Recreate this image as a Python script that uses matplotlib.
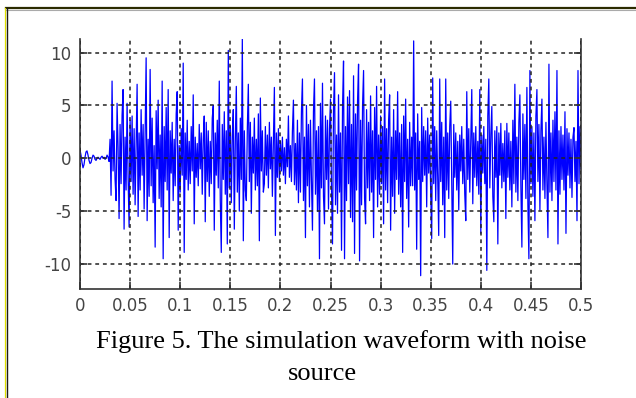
import matplotlib.pyplot as plt
from matplotlib.lines import Line2D

dt = 0.001
signal = [
    # 0.000 - 0.029: small decaying start-up ripple
    0.8, 0.3, -0.4, -0.9, -0.6, 0.1, 0.6, 0.7, 0.3, -0.2,
    -0.5, -0.4, 0.0, 0.3, 0.2, -0.1, -0.2, 0.0, 0.1, 0.0,
    -0.1, 0.1, 0.2, 0.0, 0.1, -0.1, 0.0, 0.3, 0.1, -0.3,
    # 0.030 - 0.099
    1.8, -3.5, 7.3, -1.2, 2.6, -2.0, -4.0, 5.2, 1.0, -5.7,
    3.2, -2.4, 4.1, 6.5, -6.7, 2.0, -3.0, 5.2, -1.8, -6.5,
    3.6, -2.2, 4.0, -3.4, 2.8, -4.4, 1.5, 7.0, -5.5, 2.4,
    -3.0, 4.6, -1.6, 3.2, -4.8, 2.0, 9.5, -5.9, 1.8, -3.6,
    8.4, -2.6, 3.8, -4.2, 1.2, -8.4, 4.5, -1.0, 5.5, -3.8,
    2.2, -4.6, 7.3, -9.5, 3.0, -2.2, 4.8, -3.0, 6.5, -7.5,
    2.6, -1.4, 3.4, -4.0, 1.8, -2.6, 4.2, 6.3, -6.8, 1.2,
    # 0.100 - 0.199
    -3.2, 2.8, -1.6, 9.0, -8.9, 2.4, -2.0, 3.6, -3.0, 1.6,
    -2.4, 3.0, -1.2, 6.0, -6.2, 2.0, -1.8, 1.4, -2.6, 3.2,
    -1.0, 2.4, -3.4, 1.8, 4.0, -6.0, 3.4, -2.2, 2.6, -3.6,
    1.6, -2.4, 3.8, 5.0, -6.8, 2.4, -1.6, 3.6, -2.8, 7.3,
    -4.0, -8.9, 3.2, -2.0, 4.4, -3.4, 2.6, -8.1, 10.2, -2.8,
    3.0, -4.2, 2.2, 4.6, -6.7, 1.6, 6.8, -3.2, 2.4, -5.0,
    3.8, -2.0, 11.3, -7.8, 2.6, -3.0, -4.0, 2.8, 7.0, -2.2,
    3.4, -5.2, 2.0, -1.4, 3.8, -3.0, 1.8, -2.6, 4.2, -7.8,
    5.7, -1.2, 2.6, -3.2, -2.4, 3.0, -1.6, 2.2, -2.8, 3.4,
    -1.0, 2.0, -3.6, 1.4, 6.7, -7.3, 2.4, -1.8, 2.8, -2.2,
    # 0.200 - 0.299
    1.6, -1.2, 2.0, -1.6, 1.0, -2.4, 1.8, -0.8, 4.0, -1.8,
    1.2, -2.2, 2.6, 5.5, -2.5, 1.4, -3.0, 3.6, -4.2, 2.4,
    -3.2, 4.4, 7.5, -4.0, 2.0, -7.5, 5.0, -2.6, 3.2, -4.6,
    3.6, -2.0, -6.8, 4.4, 7.5, -3.4, 2.6, -5.0, 3.0, -9.5,
    5.2, -2.8, 7.1, -3.6, -6.2, 4.0, -2.0, 3.6, -4.8, 2.8,
    5.6, -3.0, -8.1, 4.6, 8.1, -4.4, 2.2, -5.2, 6.0, -3.2,
    2.4, -8.7, 4.8, 9.2, -9.5, 3.0, -4.0, 5.8, -2.4, 6.4,
    -5.6, 3.2, -6.0, 7.8, -9.0, 4.2, -3.0, 5.4, 8.9, -9.7,
    3.6, -4.4, 5.0, 8.3, -3.8, -6.2, 4.6, -2.8, 3.4, -4.0,
    5.9, -3.2, 2.6, -7.5, 4.8, -2.0, 6.8, -4.6, 2.2, -3.4,
    # 0.300 - 0.399
    4.0, -2.4, 3.0, -6.2, 7.5, -3.0, 2.8, -4.2, 3.6, 6.0,
    -6.8, 2.0, -3.6, 4.6, -5.2, 2.6, -2.0, 6.3, -3.4, 2.4,
    -4.6, 3.2, -8.9, 4.0, -2.2, 5.6, -3.8, 1.8, -6.5, 3.4,
    -2.6, 2.0, -2.6, 11.1, -3.0, 2.4, -8.6, 4.2, -2.0, 1.6,
    -11.1, 4.8, -2.2, 3.0, -1.6, 2.6, -4.6, 3.8, -1.4, 2.2,
    -3.2, -7.6, 7.6, -2.4, 3.0, -4.0, 2.6, -1.8, -7.3, 7.5,
    -2.2, 3.4, -4.4, 2.0, -7.5, 7.5, -3.0, 2.4, -3.8, 3.0,
    5.4, -2.6, -10.0, 3.2, -1.8, 2.4, -3.0, 1.6, -4.9, 2.2,
    -1.2, 3.0, -2.4, 1.8, -3.4, -5.9, 6.3, -2.0, 2.8, -3.2,
    1.4, 6.5, -4.3, 2.4, -1.8, 3.0, -2.6, 1.6, -3.4, 6.5,
    # 0.400 - 0.500
    -7.1, 2.2, -1.4, 3.0, -2.4, 1.8, -10.6, 4.0, 7.5, -2.8,
    2.2, 4.9, -3.6, -6.0, 2.6, -1.8, 3.0, -8.1, 2.4, -1.6,
    3.3, -2.8, 1.4, -2.2, 2.6, -5.7, 3.3, -1.8, 2.4, -3.0,
    1.6, -4.6, 3.6, -2.4, 7.0, -3.2, 2.0, -4.0, 3.4, 6.0,
    -2.6, -8.4, 4.2, -2.0, 3.2, -3.8, 6.7, -4.4, -9.5, 8.3,
    -2.4, 3.0, -3.6, 2.4, -5.9, 4.0, 6.5, -2.2, 3.2, -4.9,
    2.6, 5.6, -3.0, 2.0, -3.8, 3.4, -2.4, -7.5, 8.9, -3.2,
    2.4, -4.0, 3.6, -2.2, 4.4, -3.0, 8.3, -8.1, 2.6, -3.4,
    3.0, -2.0, 2.2, -3.0, 4.4, -7.1, 2.8, -1.6, 2.4, -2.8,
    1.8, -3.7, 2.0, 2.9, -2.2, 1.6, -5.9, 8.3, -2.4, 3.0,
    -1.0,
]
time = [i * dt for i in range(len(signal))]

x_ticks = [0, 0.05, 0.1, 0.15, 0.2, 0.25, 0.3, 0.35, 0.4, 0.45, 0.5]
x_labels = ['0', '0.05', '0.1', '0.15', '0.2', '0.25', '0.3', '0.35', '0.4', '0.45', '0.5']
y_ticks = [-10, -5, 0, 5, 10]
y_labels = ['-10', '-5', '0', '5', '10']

caption_1 = 'Figure 5. The simulation waveform with noise'
caption_2 = 'source'

fig = plt.figure(figsize=(6.36, 3.98), dpi=100)
ax = fig.add_axes([80 / 636, 1 - 289 / 398, 501 / 636, 250 / 398])

ax.plot(time, signal, color='#0000ff', linewidth=0.9)

ax.set_xlim(0, 0.5)
ax.set_ylim(-12.36, 11.28)
ax.set_xticks(x_ticks)
ax.set_xticklabels(x_labels)
ax.set_yticks(y_ticks)
ax.set_yticklabels(y_labels)

ax.grid(True, color='#222222', linestyle=(0, (2.5, 2.5)), linewidth=1.1)
ax.set_axisbelow(False)

ax.spines['top'].set_visible(False)
for side in ['left', 'right', 'bottom']:
    ax.spines[side].set_color('#333333')
    ax.spines[side].set_linewidth(1.2)

ax.tick_params(direction='in', length=5, width=1.2, color='#333333',
               labelcolor='#444444', labelsize=12, right=True, pad=6)
for lab in ax.get_xticklabels() + ax.get_yticklabels():
    lab.set_family(['Liberation Sans Narrow', 'DejaVu Sans'])

fig.text(341 / 636, 1 - 348 / 398, caption_1, ha='center', va='baseline',
         family=['Liberation Serif', 'DejaVu Serif'], fontsize=19, color='black')
fig.text(322 / 636, 1 - 380 / 398, caption_2, ha='center', va='baseline',
         family=['Liberation Serif', 'DejaVu Serif'], fontsize=19, color='black')

# page frame: top and left edges only
fig.add_artist(Line2D([6 / 636, 1], [1 - 8 / 398, 1 - 8 / 398], color='#2b2b00', linewidth=1.6))
fig.add_artist(Line2D([6 / 636, 1], [1 - 9.8 / 398, 1 - 9.8 / 398], color='#aaaaaa', linewidth=0.8))
fig.add_artist(Line2D([5 / 636, 5 / 636], [0, 1 - 8 / 398], color='#e0e000', linewidth=0.9))
fig.add_artist(Line2D([6.5 / 636, 6.5 / 636], [0, 1 - 8 / 398], color='#1a1a1a', linewidth=1.0))

fig.savefig('out.png', dpi=100)
